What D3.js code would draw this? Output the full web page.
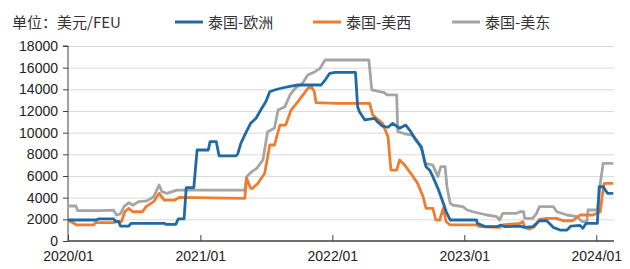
<!DOCTYPE html>
<html><head><meta charset="utf-8">
<script src="https://cdn.jsdelivr.net/npm/d3@7"></script>
<style>html,body{margin:0;padding:0;background:#fff;}svg{display:block;}</style>
</head><body>
<svg id="chart" width="630" height="269"></svg>
<script>
const unitLabel = "单位：美元/FEU";
const seriesNames = ["泰国-欧洲", "泰国-美西", "泰国-美东"];
const seriesColors = ["#1f6aa5", "#ed7d31", "#a5a5a5"];
const yTicks = [0, 2000, 4000, 6000, 8000, 10000, 12000, 14000, 16000, 18000];
const xTickLabels = ["2020/01", "2021/01", "2022/01", "2023/01", "2024/01"];

const euDates = ["2020-01-01","2020-03-20","2020-03-25","2020-05-06","2020-05-12","2020-05-20","2020-05-25","2020-06-17","2020-06-23","2020-09-23","2020-09-28","2020-10-25","2020-11-01","2020-11-17","2020-11-23","2020-12-14","2020-12-23","2021-01-23","2021-01-28","2021-02-14","2021-02-22","2021-04-09","2021-04-14","2021-04-23","2021-05-06","2021-05-20","2021-06-04","2021-06-17","2021-07-01","2021-07-12","2021-07-25","2021-08-12","2021-09-09","2021-09-28","2021-12-01","2021-12-12","2021-12-25","2022-01-09","2022-03-06","2022-03-12","2022-03-17","2022-04-01","2022-04-28","2022-05-06","2022-05-20","2022-06-04","2022-06-17","2022-07-06","2022-07-23","2022-08-06","2022-08-20","2022-09-04","2022-09-17","2022-09-28","2022-10-06","2022-10-20","2022-11-04","2022-11-12","2022-11-23","2023-02-04","2023-02-06","2023-03-01","2023-04-01","2023-04-12","2023-04-23","2023-06-04","2023-06-17","2023-07-09","2023-07-28","2023-08-17","2023-09-04","2023-09-23","2023-10-12","2023-10-23","2023-11-17","2023-11-25","2023-12-04","2024-01-04","2024-01-09","2024-01-20","2024-02-01","2024-02-17"];
const euValues = [1940,1940,2040,2040,1800,1800,1380,1380,1630,1630,1540,1540,2040,2040,4920,4920,8400,8400,9170,9170,7850,7850,8000,9020,9940,10860,11330,12090,12860,13780,13940,14100,14300,14400,14400,14860,15480,15570,15570,12400,11930,11170,11320,11000,10610,10500,10860,10400,10700,10090,9320,8700,6860,6500,5940,4860,3480,2700,1940,1940,1630,1320,1320,1480,1320,1380,1260,1320,1870,1870,1260,1010,1010,1380,1440,1170,1630,1630,5010,5010,4400,4400];

const wcDates = ["2020-01-01","2020-01-25","2020-03-12","2020-03-17","2020-05-06","2020-05-17","2020-05-28","2020-06-06","2020-06-17","2020-06-28","2020-07-25","2020-08-04","2020-08-25","2020-09-09","2020-09-23","2020-10-23","2020-11-04","2021-05-04","2021-05-09","2021-05-20","2021-05-25","2021-06-09","2021-06-28","2021-07-12","2021-07-25","2021-08-09","2021-08-25","2021-09-09","2021-09-28","2021-10-12","2021-10-25","2021-11-04","2021-11-12","2021-11-17","2022-01-12","2022-04-14","2022-04-23","2022-05-20","2022-06-04","2022-06-12","2022-06-28","2022-07-06","2022-07-20","2022-08-06","2022-08-25","2022-09-09","2022-09-17","2022-10-06","2022-10-14","2022-10-25","2022-11-04","2022-11-12","2022-11-23","2023-02-04","2023-02-14","2023-04-09","2023-04-17","2023-06-04","2023-06-12","2023-06-17","2023-07-01","2023-07-14","2023-07-28","2023-08-17","2023-09-14","2023-10-01","2023-10-28","2023-11-17","2023-12-23","2024-01-12","2024-01-17","2024-01-23","2024-02-17"];
const wcValues = [1940,1480,1480,1700,1700,1800,1800,2700,3010,2700,2700,3170,3630,4400,3780,3780,4030,3940,5800,4860,4860,5320,6250,8860,8860,10700,10700,12090,12860,13480,14090,14240,13800,12770,12700,12700,11630,10860,9630,6550,6550,7480,7010,6250,5320,4090,3020,3020,1940,1940,3020,1780,1480,1480,1320,1260,1480,1630,1780,1260,1100,1320,2000,2090,2090,1870,1870,2400,2400,2700,4090,5320,5320];

const ecDates = ["2020-01-01","2020-01-23","2020-01-28","2020-03-28","2020-05-06","2020-05-14","2020-05-25","2020-06-04","2020-06-17","2020-06-28","2020-07-14","2020-08-06","2020-08-25","2020-09-09","2020-09-17","2020-10-01","2020-10-28","2021-05-04","2021-05-09","2021-05-23","2021-06-06","2021-06-23","2021-07-06","2021-07-25","2021-08-04","2021-08-23","2021-09-06","2021-09-20","2021-10-09","2021-10-25","2021-11-14","2021-11-28","2021-12-12","2022-04-12","2022-04-20","2022-05-25","2022-06-01","2022-06-28","2022-07-01","2022-07-20","2022-08-09","2022-08-23","2022-09-06","2022-09-14","2022-10-06","2022-10-20","2022-10-28","2022-11-09","2022-11-14","2022-11-23","2022-12-01","2022-12-28","2023-01-09","2023-01-25","2023-03-04","2023-04-01","2023-04-09","2023-04-17","2023-05-25","2023-06-04","2023-06-14","2023-06-17","2023-07-09","2023-07-20","2023-07-28","2023-09-04","2023-09-14","2023-10-12","2023-11-09","2023-11-23","2023-12-06","2023-12-09","2024-01-04","2024-01-12","2024-01-20","2024-02-17"];
const ecValues = [3230,3230,2800,2800,2850,2400,2500,3170,3540,3300,3630,3700,4090,5170,4550,4400,4700,4700,5940,6400,6700,7480,10090,10400,12090,12400,13480,14090,14500,15320,15630,15940,16710,16710,13940,13700,13480,13480,10090,9900,9780,9320,8400,7170,7000,5940,6860,6860,5010,3480,3300,3170,2860,2700,2400,2240,1940,2550,2550,2700,2700,2090,2090,2550,3170,3170,2700,2400,2240,1780,1780,2860,2860,5320,7170,7170];

const xStart = "2020-01-01", xEnd = "2024-02-19";
const tickDates = ["2020-01-01","2021-01-01","2022-01-01","2023-01-01","2024-01-01"];

const parse = d3.timeParse("%Y-%m-%d");
const svg = d3.select("#chart");
const margin = {left: 68, right: 16, top: 46, bottom: 28};
const W = 630, H = 269;
const x = d3.scaleTime().domain([parse(xStart), parse(xEnd)]).range([margin.left, W - margin.right]);
const y = d3.scaleLinear().domain([0, 18000]).range([H - margin.bottom, margin.top]);

// grid
svg.append("g").selectAll("line").data(yTicks.filter(v => v > 0)).join("line")
  .attr("x1", margin.left).attr("x2", W - margin.right)
  .attr("y1", d => y(d) + 0.5).attr("y2", d => y(d) + 0.5)
  .attr("stroke", "#d9d9d9").attr("stroke-width", 1);

const fontNum = "'Liberation Sans', Arial, sans-serif";
const fontCJK = "'Noto Sans CJK SC', sans-serif";

// y axis
const yAxis = svg.append("g").attr("transform", `translate(${margin.left},0)`)
  .call(d3.axisLeft(y).tickValues(yTicks).tickSize(5).tickPadding(5).tickFormat(d3.format("d")));
yAxis.selectAll("text").attr("font-family", fontNum).attr("font-size", 14).attr("fill", "#222");
yAxis.selectAll("line, path").attr("stroke", "#404040");
yAxis.select("path").attr("d", `M-5,${y(18000)}H0V${y(0)}`);

// x axis
const xAxis = svg.append("g").attr("transform", `translate(0,${y(0)})`)
  .call(d3.axisBottom(x).tickValues(tickDates.map(parse)).tickSize(-6).tickPadding(10)
    .tickFormat((d, i) => xTickLabels[i]));
xAxis.selectAll("text").attr("font-family", fontNum).attr("font-size", 14).attr("fill", "#222");
xAxis.selectAll("line, path").attr("stroke", "#404040");
xAxis.select("path").attr("d", `M${margin.left},0H${W - margin.right}`).attr("stroke-width", 1.5);

// lines
const allSeries = [
  {dates: euDates, values: euValues},
  {dates: wcDates, values: wcValues},
  {dates: ecDates, values: ecValues}
];
const line = d3.line().x(d => x(d[0])).y(d => y(d[1]));
const drawOrder = [2, 1, 0];
drawOrder.forEach(i => {
  const s = allSeries[i];
  const pts = s.dates.map((d, k) => [parse(d), s.values[k]]);
  svg.append("path").datum(pts).attr("d", line)
    .attr("fill", "none").attr("stroke", seriesColors[i])
    .attr("stroke-width", 2.8).attr("stroke-linejoin", "round");
});

// title + legend
svg.append("text").attr("x", 12).attr("y", 21.5).attr("dominant-baseline", "central")
  .attr("font-family", fontCJK).attr("font-size", 15).attr("fill", "#333").text(unitLabel);
const legendX = [175, 313, 452];
seriesNames.forEach((n, i) => {
  const g = svg.append("g").attr("transform", `translate(${legendX[i]},22)`);
  g.append("line").attr("x1", 0).attr("x2", 28).attr("stroke", seriesColors[i]).attr("stroke-width", 3);
  g.append("text").attr("x", 33).attr("y", -0.5).attr("dominant-baseline", "central")
    .attr("font-family", fontCJK).attr("font-size", 15).attr("fill", "#333").text(n);
});
</script>
</body></html>
